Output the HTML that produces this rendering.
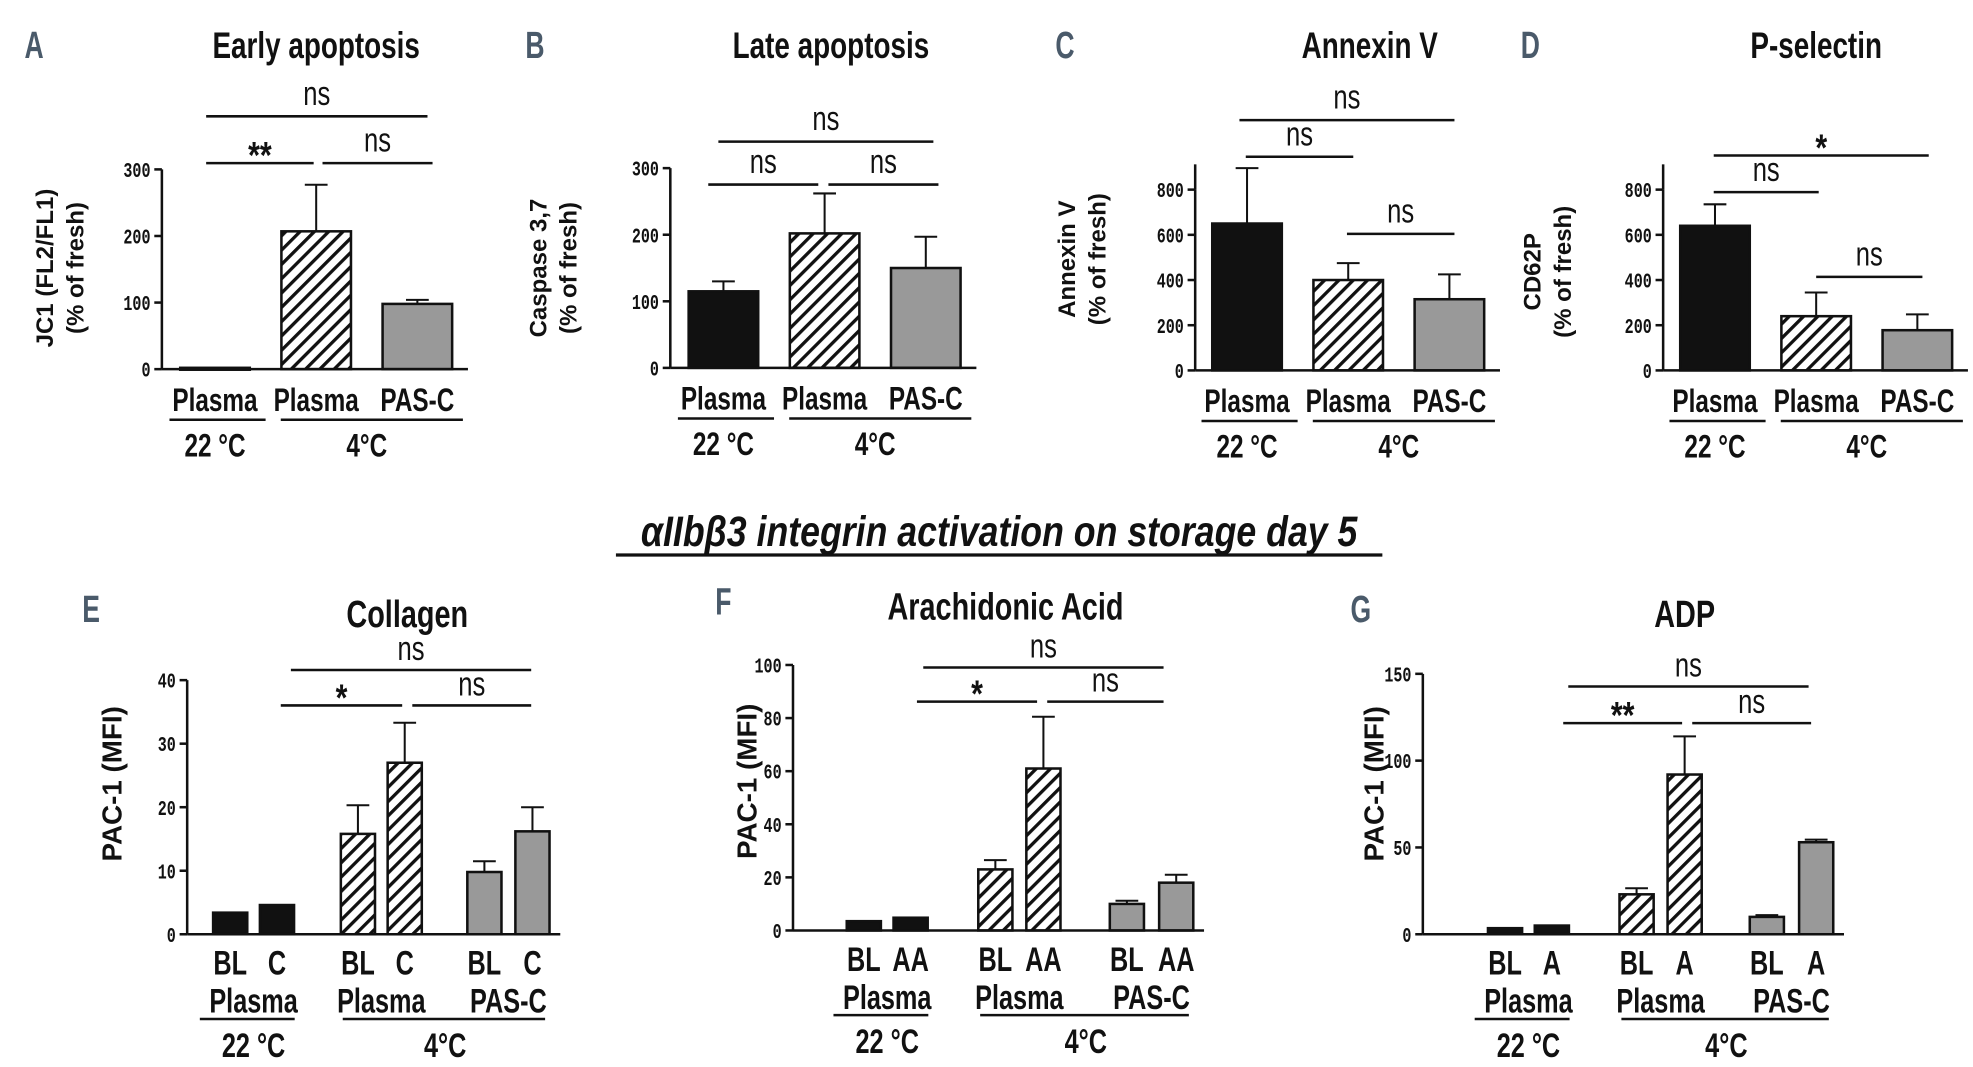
<!DOCTYPE html>
<html><head><meta charset="utf-8"><style>
html,body{margin:0;padding:0;background:#fff}
svg{display:block}
text{font-family:"Liberation Sans Narrow","Liberation Sans",sans-serif;fill:#111}
</style></head><body>
<svg id="fig" width="1973" height="1067" viewBox="0 0 1560 844" preserveAspectRatio="none" xmlns="http://www.w3.org/2000/svg">
<defs>
<pattern id="hatch" patternUnits="userSpaceOnUse" width="8" height="8" patternTransform="rotate(45)">
<rect width="8" height="8" fill="#fff"/><rect x="0" y="0" width="2.6" height="8" fill="#111"/>
</pattern>
</defs>
</svg>
<script>
// ---- data ----
const panelATicks=[0,100,200,300];
const panelAValues=[2,207,98];
const panelAErrors=[2,277,104];
const panelBTicks=[0,100,200,300];
const panelBValues=[115,202,150];
const panelBErrors=[130,262,197];
const panelCTicks=[0,200,400,600,800];
const panelCValues=[650,400,315];
const panelCErrors=[895,475,425];
const panelDTicks=[0,200,400,600,800];
const panelDValues=[640,240,178];
const panelDErrors=[735,345,248];
const topCategories=["Plasma","Plasma","PAS-C"];
const panelETicks=[0,10,20,30,40];
const panelEValues=[3.4,4.6,15.8,27,9.8,16.2];
const panelEErrors=[3.4,4.6,20.3,33.3,11.5,20];
const panelFTicks=[0,20,40,60,80,100];
const panelFValues=[3.5,4.8,23,61,10,18];
const panelFErrors=[3.5,4.8,26.5,80.5,11.2,21];
const panelGTicks=[0,50,100,150];
const panelGValues=[3.5,5,23,92,10,53];
const panelGErrors=[3.5,5,26.5,114,11,54.5];

const svg=document.getElementById('fig');
const NS='http://www.w3.org/2000/svg';
function el(tag,attrs,name){const e=document.createElementNS(NS,tag);for(const k in attrs)e.setAttribute(k,attrs[k]);


svg.appendChild(e);return e;}
function line(x1,y1,x2,y2,w,name){return el('line',{x1,y1,x2,y2,stroke:'#111','stroke-width':w||2},name);}
function txt(x,y,s,size,name,opts){opts=opts||{};const sx=opts.sx||0.82;
const t=el('text',{x:x/sx,y,'font-size':size,'font-weight':opts.weight||'bold','text-anchor':opts.anchor||'middle',transform:`scale(${sx},1)`},name);
if(opts.style)t.setAttribute('style',opts.style);t.textContent=s;return t;}
const fills=['#111','url(#hatch)','#999'];

function axis(ax,y0,yTop,max,ticks,name){
  const sc=v=>y0-(y0-yTop)*v/max;
  line(ax,sc(max)-0,ax,y0,2,name+'-y-axis');
  ticks.forEach(t=>{line(ax-6,sc(t),ax,sc(t),2,name+'-tick');
   txt(ax-9,sc(t)+6,String(t),17,name+'-tick-label',{anchor:'end',sx:0.7,style:'font-family:Liberation Mono,monospace;font-weight:bold;fill:#111'});});
  return sc;
}
function bar(cx,w,sc,v,e,fill,y0,name){
  const top=sc(v);
  if(e>v){line(cx,sc(e),cx,top,1.6,name+'-error');line(cx-9,sc(e),cx+9,sc(e),1.6,name+'-error-cap');}
  el('rect',{x:cx-w/2,y:top,width:w,height:Math.max(y0-top,1.5),fill,stroke:'#111','stroke-width':2},name);
}
function sig(x1,x2,y,label,name,ty){line(x1,y,x2,y,2,name+'-line');
  if(label=='ns')txt((x1+x2)/2,y-(ty||9),label,27,name+'-label',{weight:'normal',sx:0.75});
  else txt((x1+x2)/2,y+4,label,30,name+'-label',{weight:'bold',sx:0.8});}

// ---- top panels ----
function topPanel(p){
  const sc=axis(p.ax,p.y0,p.yTop,p.max,p.ticks,p.id);
  p.centers.forEach((c,i)=>{bar(c,55,sc,p.vals[i],p.errs[i],fills[i],p.y0,p.id+'-bar-'+i);
    txt(c,p.y0+33,topCategories[i],26,p.id+'-category-label',{sx:0.74});});
  line(p.ax,p.y0,p.centers[2]+40,p.y0,2,p.id+'-x-axis');
  line(p.centers[0]-36,p.y0+40,p.centers[0]+40,p.y0+40,2,p.id+'-22c-line');
  line(p.centers[1]-28,p.y0+40,p.centers[2]+36,p.y0+40,2,p.id+'-4c-line');
  txt(p.centers[0],p.y0+69,'22 °C',26,p.id+'-22c-label',{sx:0.74});
  txt((p.centers[1]+p.centers[2])/2,p.y0+69,'4°C',26,p.id+'-4c-label',{sx:0.74});
  txt(p.titleX,46,p.title,29,p.id+'-title',{sx:0.76});
  txt(p.letterX,46,p.letter,30,p.id+'-panel-letter',{weight:'bold',sx:0.7,style:'fill:#4a5a6a'});
  const g=el('text',{x:0,y:0,'font-size':19,'font-weight':'bold','text-anchor':'middle',transform:`translate(${p.ytx},${p.ytY}) rotate(-90)`,style:'font-family:Liberation Sans,sans-serif;fill:#111'},p.id+'-y-axis-title');
  p.ytitle.forEach((s,i)=>{const ts=document.createElementNS(NS,'tspan');ts.setAttribute('x',0);ts.setAttribute('dy',i?24:0);ts.textContent=s;g.appendChild(ts);});
  p.sigs.forEach((s,i)=>sig(s[0],s[1],s[2],s[3],p.id+'-significance-'+i));
}
topPanel({id:'panel-a',ax:128,y0:292,yTop:134,max:300,ticks:panelATicks,vals:panelAValues,errs:panelAErrors,centers:[170,250,330],title:'Early apoptosis',titleX:250,letter:'A',letterX:27,ytx:42,ytY:212,ytitle:['JC1 (FL2/FL1)','(% of fresh)'],
 sigs:[[163,248,129,'**'],[255,342,129,'ns'],[163,338,92,'ns']]});
topPanel({id:'panel-b',ax:530,y0:291,yTop:133,max:300,ticks:panelBTicks,vals:panelBValues,errs:panelBErrors,centers:[572,652,732],title:'Late apoptosis',titleX:657,letter:'B',letterX:423,ytx:432,ytY:212,ytitle:['Caspase 3,7','(% of fresh)'],
 sigs:[[560,647,146,'ns'],[655,742,146,'ns'],[568,738,112,'ns']]});
topPanel({id:'panel-c',ax:945,y0:293,yTop:150,max:800,ticks:panelCTicks,vals:panelCValues,errs:panelCErrors,centers:[986,1066,1146],title:'Annexin V',titleX:1083,letter:'C',letterX:842,ytx:850,ytY:205,ytitle:['Annexin V','(% of fresh)'],
 sigs:[[980,1150,95,'ns'],[985,1070,124,'ns'],[1065,1150,185,'ns']]});
topPanel({id:'panel-d',ax:1315,y0:293,yTop:150,max:800,ticks:panelDTicks,vals:panelDValues,errs:panelDErrors,centers:[1356,1436,1516],title:'P-selectin',titleX:1436,letter:'D',letterX:1210,ytx:1218,ytY:215,ytitle:['CD62P','(% of fresh)'],
 sigs:[[1355,1525,123,'*'],[1355,1438,152,'ns'],[1436,1520,219,'ns']]});
line(945,130,945,150,2,'panel-c-y-axis-ext');line(1315,130,1315,150,2,'panel-d-y-axis-ext');

// ---- middle title ----
txt(790,432,'αIIbβ3 integrin activation on storage day 5',34,'section-title',{sx:0.83,style:'font-style:italic;fill:#111'});
line(487,439,1093,439,2.5,'section-title-underline');

// ---- bottom panels ----
function botPanel(p){
  const sc=axis(p.ax,p.y0,p.yTop,p.max,p.ticks,p.id);
  const bf=['#111','#111','url(#hatch)','url(#hatch)','#999','#999'];
  p.centers.forEach((c,i)=>{bar(c,27,sc,p.vals[i],p.errs[i],bf[i],p.y0,p.id+'-bar-'+i);
    txt(c,p.y0+32,i%2?p.stim:'BL',27,p.id+'-bar-label',{sx:0.74});});
  line(p.ax,p.y0,p.centers[5]+22,p.y0,2,p.id+'-x-axis');
  const grp=['Plasma','Plasma','PAS-C'];
  for(let g=0;g<3;g++)txt((p.centers[2*g]+p.centers[2*g+1])/2,p.y0+62,grp[g],27,p.id+'-group-label',{sx:0.74});
  const m0=(p.centers[0]+p.centers[1])/2, m1=(p.centers[2]+p.centers[5])/2;
  line(p.centers[0]-24,p.y0+67,p.centers[1]+14,p.y0+67,2,p.id+'-22c-line');
  line(p.centers[2]-12,p.y0+67,p.centers[5]+10,p.y0+67,2,p.id+'-4c-line');
  txt(m0,p.y0+97,'22 °C',27,p.id+'-22c-label',{sx:0.74});
  txt(m1,p.y0+97,'4°C',27,p.id+'-4c-label',{sx:0.74});
  txt(p.titleX,p.titleY,p.title,30,p.id+'-title',{sx:0.76});
  txt(p.letterX,p.titleY-4,p.letter,30,p.id+'-panel-letter',{weight:'bold',sx:0.7,style:'fill:#4a5a6a'});
  el('text',{x:0,y:0,'font-size':22,'font-weight':'bold','text-anchor':'middle',transform:`translate(${p.ytx},${p.ytY}) rotate(-90)`,style:'font-family:Liberation Sans,sans-serif;fill:#111'},p.id+'-y-axis-title').textContent='PAC-1 (MFI)';
  p.sigs.forEach((s,i)=>sig(s[0],s[1],s[2],s[3],p.id+'-significance-'+i,8));
}
botPanel({id:'panel-e',ax:148,y0:739,yTop:538,max:40,ticks:panelETicks,vals:panelEValues,errs:panelEErrors,centers:[182,219,283,320,383,421],stim:'C',title:'Collagen',titleX:322,titleY:496,letter:'E',letterX:72,ytx:96,ytY:620,
 sigs:[[230,420,530,'ns'],[222,318,558,'*'],[326,420,558,'ns']]});
botPanel({id:'panel-f',ax:627,y0:736,yTop:526,max:100,ticks:panelFTicks,vals:panelFValues,errs:panelFErrors,centers:[683,720,787,825,891,930],stim:'AA',title:'Arachidonic Acid',titleX:795,titleY:490,letter:'F',letterX:572,ytx:598,ytY:618,
 sigs:[[730,920,528,'ns'],[725,820,555,'*'],[828,920,555,'ns']]});
botPanel({id:'panel-g',ax:1125,y0:739,yTop:533,max:150,ticks:panelGTicks,vals:panelGValues,errs:panelGErrors,centers:[1190,1227,1294,1332,1397,1436],stim:'A',title:'ADP',titleX:1332,titleY:496,letter:'G',letterX:1076,ytx:1094,ytY:620,
 sigs:[[1240,1430,543,'ns'],[1236,1330,572,'**'],[1338,1432,572,'ns']]});
</script>
</body></html>
